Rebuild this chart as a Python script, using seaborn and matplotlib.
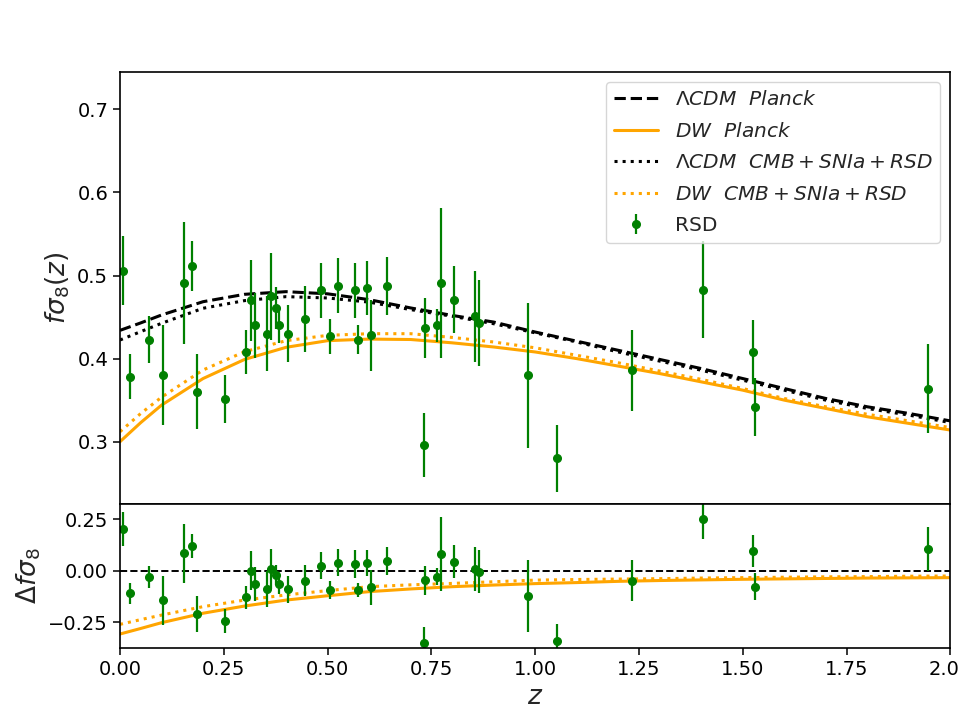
import numpy as np
import seaborn as sns
import matplotlib.pyplot as plt

sns.set_style("ticks")
plt.rcParams["font.family"] = ["DejaVu Sans"]
plt.rcParams["mathtext.fontset"] = "dejavusans"
plt.rcParams["axes.edgecolor"] = "black"
plt.rcParams["xtick.color"] = "black"
plt.rcParams["ytick.color"] = "black"

# RSD measurements (top panel) and residuals (bottom panel)
z_rsd = [0.007, 0.025, 0.071, 0.104, 0.154, 0.174, 0.185, 0.254, 0.304, 0.315,
         0.324, 0.354, 0.364, 0.375, 0.384, 0.404, 0.445, 0.485, 0.505, 0.525,
         0.565, 0.574, 0.595, 0.605, 0.644, 0.732, 0.734, 0.764, 0.774, 0.804,
         0.854, 0.864, 0.982, 1.053, 1.234, 1.404, 1.524, 1.530, 1.947]
fs8 = [0.506, 0.378, 0.423, 0.380, 0.491, 0.511, 0.360, 0.351, 0.408, 0.470,
       0.440, 0.430, 0.475, 0.461, 0.441, 0.430, 0.448, 0.482, 0.427, 0.488,
       0.482, 0.423, 0.485, 0.428, 0.487, 0.296, 0.437, 0.440, 0.491, 0.471,
       0.451, 0.443, 0.380, 0.280, 0.386, 0.483, 0.408, 0.342, 0.364]
fs8_err = [0.042, 0.027, 0.028, 0.060, 0.073, 0.030, 0.045, 0.029, 0.027, 0.049,
           0.039, 0.045, 0.052, 0.025, 0.022, 0.034, 0.040, 0.033, 0.021, 0.033,
           0.033, 0.018, 0.032, 0.043, 0.035, 0.038, 0.036, 0.020, 0.090, 0.040,
           0.055, 0.052, 0.087, 0.040, 0.049, 0.058, 0.038, 0.035, 0.053]
dfs8 = [0.202, -0.109, -0.028, -0.143, 0.085, 0.122, -0.210, -0.242, -0.129, 0.001,
        -0.064, -0.088, 0.009, -0.020, -0.064, -0.090, -0.048, 0.024, -0.093, 0.040,
        0.032, -0.093, 0.037, -0.080, 0.048, -0.352, -0.045, -0.028, 0.082, 0.045,
        0.009, -0.004, -0.122, -0.339, -0.048, 0.252, 0.098, -0.077, 0.106]
dfs8_err = [0.083, 0.051, 0.054, 0.119, 0.143, 0.059, 0.089, 0.059, 0.054, 0.096,
            0.082, 0.087, 0.099, 0.050, 0.050, 0.066, 0.075, 0.066, 0.044, 0.065,
            0.067, 0.035, 0.063, 0.086, 0.069, 0.078, 0.071, 0.040, 0.180, 0.079,
            0.108, 0.104, 0.176, 0.079, 0.099, 0.096, 0.077, 0.067, 0.105]

# model curves
z_curve = [0.0, 0.05, 0.1, 0.2, 0.3, 0.4, 0.5, 0.6, 0.7, 0.8, 0.9, 1.0,
           1.1, 1.2, 1.3, 1.4, 1.5, 1.6, 1.7, 1.8, 1.9, 2.0]
lcdm_planck = [0.434, 0.443, 0.4525, 0.4685, 0.4774, 0.4806, 0.478, 0.471, 0.461, 0.452, 0.444, 0.432,
               0.421, 0.410, 0.399, 0.388, 0.376, 0.364, 0.352, 0.342, 0.334, 0.325]
dw_planck = [0.300, 0.323, 0.344, 0.376, 0.399, 0.4136, 0.4216, 0.4235, 0.423, 0.419, 0.414, 0.408,
             0.400, 0.391, 0.382, 0.372, 0.362, 0.350, 0.340, 0.330, 0.322, 0.314]
lcdm_joint = [0.4224, 0.4325, 0.4425, 0.4606, 0.4698, 0.4746, 0.473, 0.468, 0.459, 0.451, 0.442, 0.431,
              0.420, 0.408, 0.397, 0.386, 0.374, 0.362, 0.350, 0.340, 0.332, 0.323]
dw_joint = [0.312, 0.334, 0.3535, 0.3863, 0.4083, 0.4216, 0.428, 0.430, 0.430, 0.4255, 0.420, 0.413,
            0.404, 0.395, 0.385, 0.375, 0.364, 0.352, 0.342, 0.333, 0.325, 0.317]
d_dw_planck = [-0.307, -0.280, -0.252, -0.206, -0.171, -0.142, -0.121, -0.101, -0.088, -0.077, -0.069, -0.062,
               -0.057, -0.051, -0.047, -0.044, -0.041, -0.039, -0.037, -0.035, -0.034, -0.033]
d_dw_joint = [-0.260, -0.237, -0.215, -0.174, -0.142, -0.117, -0.096, -0.077, -0.068, -0.061, -0.053, -0.045,
              -0.042, -0.040, -0.038, -0.035, -0.033, -0.031, -0.029, -0.028, -0.026, -0.025]

orange = "orange"
green = "green"

fig = plt.figure(figsize=(9.6, 7.2), dpi=100)
ax1 = fig.add_axes([0.125, 0.3, 0.865, 0.6])
ax2 = fig.add_axes([0.125, 0.1, 0.865, 0.2])

sns.lineplot(x=z_curve, y=lcdm_planck, ax=ax1, color="black", linestyle="--", lw=2.2,
             label=r"$\Lambda CDM\ \ Planck$", errorbar=None)
sns.lineplot(x=z_curve, y=dw_planck, ax=ax1, color=orange, linestyle="-", lw=2.2,
             label=r"$DW\ \ Planck$", errorbar=None)
sns.lineplot(x=z_curve, y=lcdm_joint, ax=ax1, color="black", linestyle=":", lw=2.2,
             label=r"$\Lambda CDM\ \ CMB+SNIa+RSD$", errorbar=None)
sns.lineplot(x=z_curve, y=dw_joint, ax=ax1, color=orange, linestyle=":", lw=2.2,
             label=r"$DW\ \ CMB+SNIa+RSD$", errorbar=None)
ax1.errorbar(z_rsd, fs8, yerr=fs8_err, fmt="o", color=green, ms=5.5,
             elinewidth=1.6, label="RSD")

ax1.set_xlim(0, 2)
ax1.set_ylim(0.225, 0.745)
ax1.set_yticks([0.3, 0.4, 0.5, 0.6, 0.7])
ax1.tick_params(axis="x", bottom=False, labelbottom=False)
ax1.tick_params(axis="y", labelsize=14, length=5, width=1.1)
ax1.set_xlabel("")
ax1.set_ylabel(r"$f\sigma_8(z)$", fontsize=19)
ax1.legend(loc="upper right", fontsize=14.5, handlelength=2.2, labelspacing=0.62)

ax2.axhline(0, color="black", linestyle="--", lw=1.4)
sns.lineplot(x=z_curve, y=d_dw_planck, ax=ax2, color=orange, linestyle="-", lw=2.2,
             errorbar=None, legend=False)
sns.lineplot(x=z_curve, y=d_dw_joint, ax=ax2, color=orange, linestyle=":", lw=2.2,
             errorbar=None, legend=False)
ax2.errorbar(z_rsd, dfs8, yerr=dfs8_err, fmt="o", color=green, ms=5.5, elinewidth=1.6)

ax2.set_xlim(0, 2)
ax2.set_ylim(-0.375, 0.325)
ax2.set_yticks([-0.25, 0.0, 0.25])
ax2.set_xticks([0, 0.25, 0.5, 0.75, 1.0, 1.25, 1.5, 1.75, 2.0])
ax2.tick_params(labelsize=14, length=5, width=1.1)
ax2.set_xlabel(r"$z$", fontsize=19)
ax2.set_ylabel(r"$\Delta f\sigma_8$", fontsize=19)

for ax in (ax1, ax2):
    for s in ax.spines.values():
        s.set_linewidth(1.2)

plt.savefig("out.png", dpi=100)
